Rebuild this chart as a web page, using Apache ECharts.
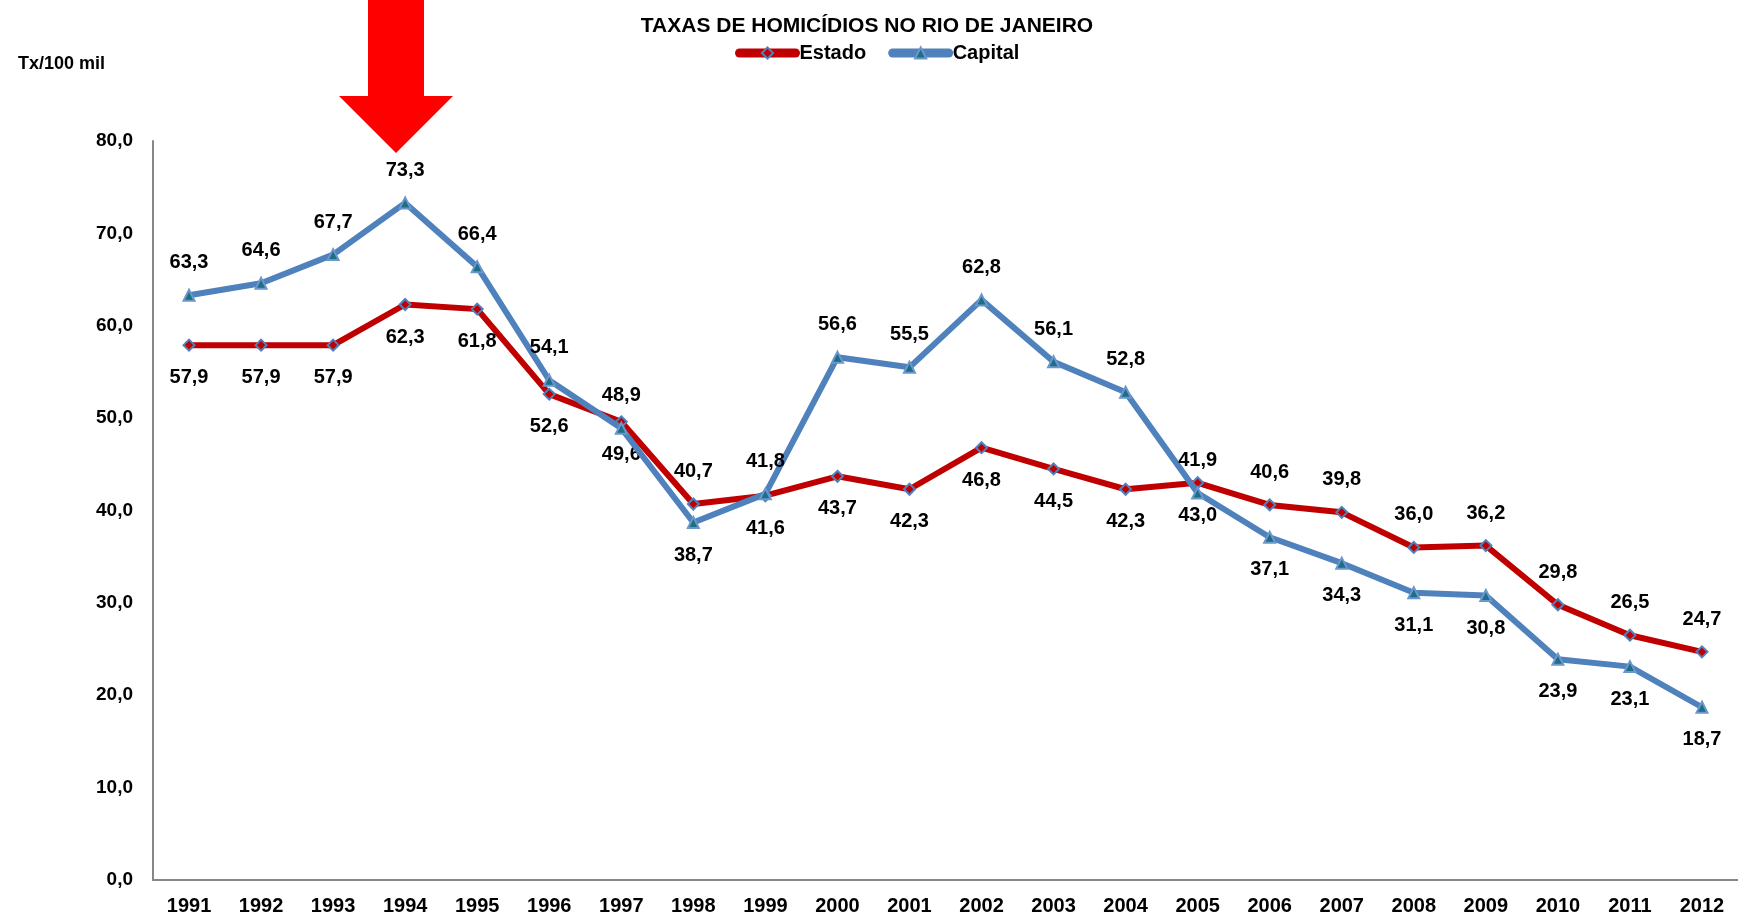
<!DOCTYPE html>
<html>
<head>
<meta charset="utf-8">
<script src="https://cdn.jsdelivr.net/npm/echarts@6/dist/echarts.min.js"></script>
<style>
html,body{margin:0;padding:0;background:#fff;}
#chart{width:1738px;height:920px;}
</style>
</head>
<body>
<div id="chart"></div>
<script>
var years = ['1991','1992','1993','1994','1995','1996','1997','1998','1999','2000','2001','2002','2003','2004','2005','2006','2007','2008','2009','2010','2011','2012'];
var estado = [57.9,57.9,57.9,62.3,61.8,52.6,49.6,40.7,41.6,43.7,42.3,46.8,44.5,42.3,43.0,40.6,39.8,36.0,36.2,29.8,26.5,24.7];
var capital = [63.3,64.6,67.7,73.3,66.4,54.1,48.9,38.7,41.8,56.6,55.5,62.8,56.1,52.8,41.9,37.1,34.3,31.1,30.8,23.9,23.1,18.7];
// label above the Estado line for these years (Capital label goes below then)
var estadoLabelAbove = ['1998','2006','2007','2008','2009','2010','2011','2012'];

var yTicks = {min: 0, max: 80, interval: 10};

function fmt(v){ return v.toFixed(1).replace('.', ','); }

function buildData(values, isEstado){
  return values.map(function(v, i){
    var above = estadoLabelAbove.indexOf(years[i]) >= 0;
    if (!isEstado) above = !above;
    return {value: v, label: {position: above ? 'top' : 'bottom'}};
  });
}

var numFont = '"Liberation Sans", Arial, sans-serif';

var chart = echarts.init(document.getElementById('chart'), null, {renderer: 'canvas'});
chart.setOption({
  animation: false,
  backgroundColor: '#ffffff',
  title: [{
    text: 'TAXAS DE HOMICÍDIOS NO RIO DE JANEIRO',
    left: 862, top: 11, textAlign: 'center',
    textStyle: {fontFamily: numFont, fontWeight: 'bold', fontSize: 21, color: '#000'}
  },{
    text: 'Tx/100 mil',
    left: 13, top: 50,
    textStyle: {fontFamily: numFont, fontWeight: 'bold', fontSize: 18, color: '#000'}
  }],
  legend: {
    left: 730, top: 38,
    itemWidth: 56, itemHeight: 14, itemGap: 22,
    lineStyle: {width: 9, cap: 'round'},
    textStyle: {fontFamily: numFont, fontWeight: 'bold', fontSize: 20, color: '#000', padding: [0,0,0,-1]},
    data: ['Estado', 'Capital']
  },
  grid: {left: 153, right: 0, top: 141, bottom: 40, containLabel: false},
  xAxis: {
    type: 'category',
    data: years,
    boundaryGap: true,
    axisLine: {lineStyle: {color: '#878787', width: 2}},
    axisTick: {show: false},
    axisLabel: {fontFamily: numFont, fontWeight: 'bold', fontSize: 20, color: '#000', margin: 16}
  },
  yAxis: {
    type: 'value',
    min: yTicks.min, max: yTicks.max, interval: yTicks.interval,
    axisLine: {show: true, lineStyle: {color: '#878787', width: 2}},
    axisTick: {show: false},
    splitLine: {show: false},
    axisLabel: {fontFamily: numFont, fontWeight: 'bold', fontSize: 19, color: '#000', margin: 20, formatter: function(v){ return fmt(v); }}
  },
  series: [{
    name: 'Estado',
    type: 'line',
    data: buildData(estado, true),
    symbol: 'diamond', symbolSize: 11,
    lineStyle: {color: '#C00000', width: 6},
    itemStyle: {color: '#C00000', borderColor: '#4F81BD', borderWidth: 2},
    label: {show: true, distance: 16, fontFamily: numFont, fontWeight: 'bold', fontSize: 20, color: '#000', formatter: function(p){ return fmt(p.value); }},
    z: 3
  },{
    name: 'Capital',
    type: 'line',
    data: buildData(capital, false),
    symbol: 'triangle', symbolSize: 11,
    lineStyle: {color: '#4F81BD', width: 6},
    itemStyle: {color: '#1E6E85', borderColor: '#6A97CC', borderWidth: 2},
    label: {show: true, distance: 16, fontFamily: numFont, fontWeight: 'bold', fontSize: 20, color: '#000', formatter: function(p){ return fmt(p.value); }},
    z: 4
  }],
  graphic: [{
    type: 'polygon',
    shape: {points: [[368,0],[424,0],[424,96],[453,96],[396,153],[339,96],[368,96]]},
    style: {fill: '#FF0000'},
    z: 10
  }]
});
</script>
</body>
</html>
